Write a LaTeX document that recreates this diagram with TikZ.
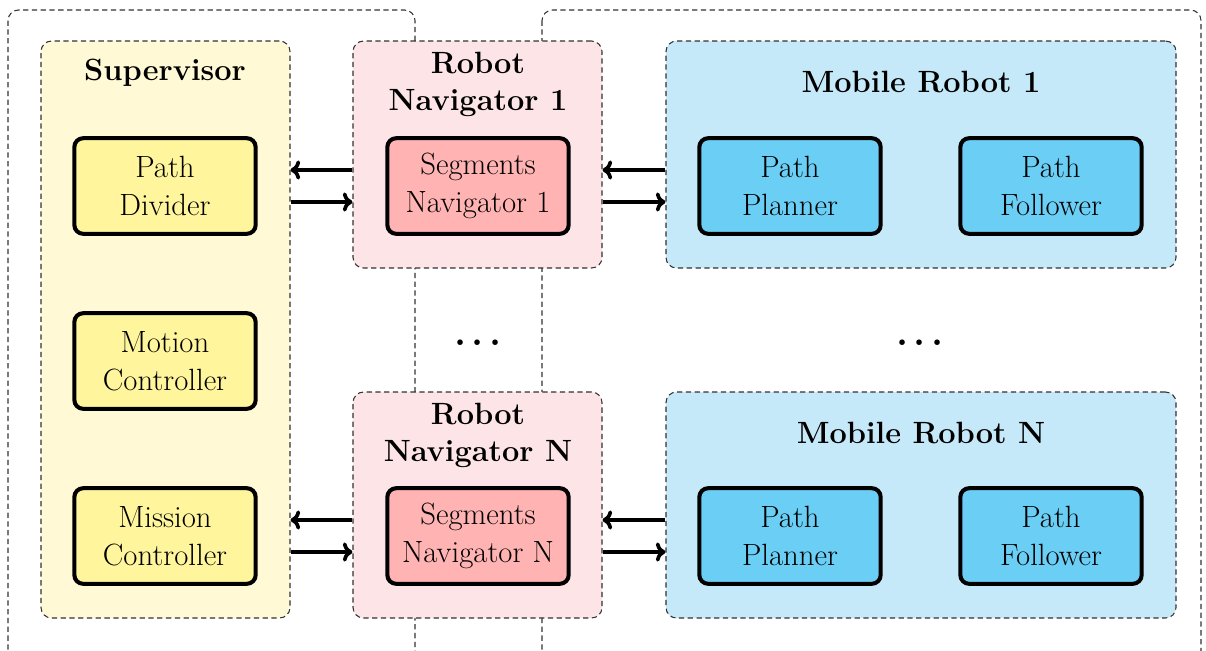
\documentclass[tikz,border=0pt]{standalone}
\usetikzlibrary{arrows.meta,fit,calc}
\definecolor{supbg}{RGB}{255,249,214}
\definecolor{navbg}{RGB}{253,228,230}
\definecolor{mobbg}{RGB}{198,233,249}
\definecolor{supin}{RGB}{255,245,157}
\definecolor{navin}{RGB}{255,179,179}
\definecolor{mobin}{RGB}{107,207,245}
\definecolor{dashcol}{RGB}{50,50,50}
\tikzset{
  frame/.style={draw=dashcol, line width=0.6pt, dash pattern=on 3pt off 2pt, rounded corners=6pt},
  group/.style={frame, inner sep=0pt},
  block/.style={draw=black, line width=2.3pt, rounded corners=5pt, inner sep=0pt, align=center,
    minimum width=103.2pt, minimum height=54.4pt,
    font=\fontsize{17.5}{21.5}\selectfont},
  title/.style={align=center, font=\fontsize{17.5}{21}\selectfont\bfseries},
  ellipsis/.style={font=\fontsize{22}{24}\selectfont\bfseries},
  arr/.style={line width=2.1pt, -{Computer Modern Rightarrow[length=5.5pt,width=11pt,line width=2.1pt]}},
}
\begin{document}
\begin{tikzpicture}[x=0.02cm,y=-0.02cm]
\clip (0,0) rectangle (1206,650);
\useasboundingbox (0,0) rectangle (1206,650);

% outer dashed frames, running past the lower edge
\draw[frame] (8,10) rectangle (415,662);
\draw[frame] (542,10) rectangle (1201,662);

% group boxes
\node[group, fill=supbg, fit={(41,41) (290,618)}] (sup) {};
\node[group, fill=navbg, fit={(353,41) (602,268)}] (nav1) {};
\node[group, fill=navbg, fit={(353,392) (602,618)}] (navN) {};
\node[group, fill=mobbg, fit={(666,41) (1176,268)}] (mob1) {};
\node[group, fill=mobbg, fit={(666,392) (1176,618)}] (mobN) {};

% group titles
\node[title] (supT) at (165,73) {Supervisor};
\node[title] (nav1T) at (478,84) {Robot\\Navigator 1};
\node[title] (navNT) at (478,435) {Robot\\Navigator N};
\node[title] (mob1T) at (921,82) {Mobile Robot 1};
\node[title] (mobNT) at (921,433) {Mobile Robot N};

% supervisor modules
\node[block, fill=supin] (pd) at (165,186) {Path\\Divider};
\node[block, fill=supin] (mc) at (165,361) {Motion\\Controller};
\node[block, fill=supin] (mis) at (165,536) {Mission\\Controller};

% navigator modules
\node[block, fill=navin] (sn1) at (478,186) {Segments\\Navigator 1};
\node[block, fill=navin] (snN) at (478,536) {Segments\\Navigator N};

% robot modules
\node[block, fill=mobin] (pp1) at (790,186) {Path\\Planner};
\node[block, fill=mobin] (pf1) at (1051,186) {Path\\Follower};
\node[block, fill=mobin] (ppN) at (790,536) {Path\\Planner};
\node[block, fill=mobin] (pfN) at (1051,536) {Path\\Follower};

% ellipses between the repeated rows
\node[ellipsis] (dots1) at (478,343) {.\hspace{3pt}.\hspace{3pt}.};
\node[ellipsis] (dots2) at (920,343) {.\hspace{3pt}.\hspace{3pt}.};

% message arrows
\draw[arr] ($(sn1.center -| nav1.west)+(0,-16)$) -- ($(sn1.center -| sup.east)+(0,-16)$);
\draw[arr] ($(sn1.center -| sup.east)+(0,16)$) -- ($(sn1.center -| nav1.west)+(0,16)$);
\draw[arr] ($(pp1.center -| mob1.west)+(0,-16)$) -- ($(pp1.center -| nav1.east)+(0,-16)$);
\draw[arr] ($(pp1.center -| nav1.east)+(0,16)$) -- ($(pp1.center -| mob1.west)+(0,16)$);
\draw[arr] ($(snN.center -| navN.west)+(0,-16)$) -- ($(snN.center -| sup.east)+(0,-16)$);
\draw[arr] ($(snN.center -| sup.east)+(0,16)$) -- ($(snN.center -| navN.west)+(0,16)$);
\draw[arr] ($(ppN.center -| mobN.west)+(0,-16)$) -- ($(ppN.center -| navN.east)+(0,-16)$);
\draw[arr] ($(ppN.center -| navN.east)+(0,16)$) -- ($(ppN.center -| mobN.west)+(0,16)$);
\end{tikzpicture}
\end{document}
